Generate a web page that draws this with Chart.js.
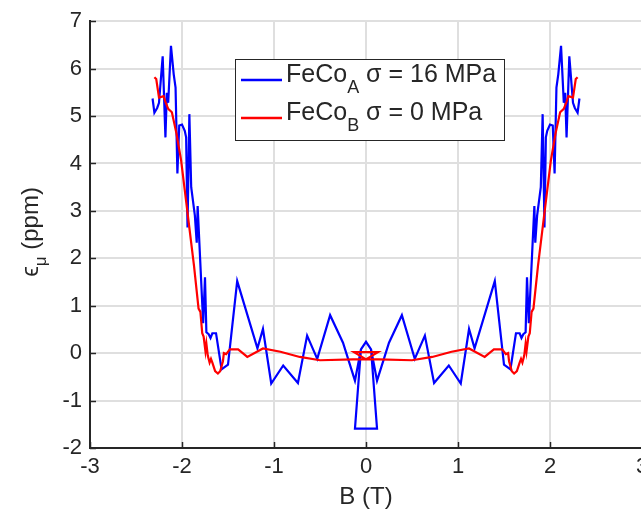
<!DOCTYPE html>
<html>
<head>
<meta charset="utf-8">
<script src="https://cdn.jsdelivr.net/npm/chart.js@4"></script>
<style>
  html, body { margin: 0; padding: 0; background: #fff; overflow: hidden; }
  canvas { display: block; }
</style>
</head>
<body>
<canvas id="strain-chart" width="660" height="515" style="width:660px;height:515px"></canvas>
<script>
// colours
var BLUE = "#0000ff"
var RED = "#ff0000"
var INK = "#262626"
var GRID = "#dfdfdf"
var FONT = "'Liberation Sans', Arial, Helvetica, sans-serif"

// FeCo_A, sigma = 16 MPa  (B in T, strain in ppm) - drawn in measurement order
let BLUE_B = [-2.32, -2.30, -2.27, -2.25, -2.21, -2.18, -2.165, -2.15, -2.12, -2.09, -2.07, -2.05, -2.03, -2.00, -1.97, -1.955, -1.94, -1.92, -1.90, -1.86, -1.84, -1.83, -1.77, -1.75, -1.735, -1.71, -1.69, -1.67, -1.63, -1.57, -1.50, -1.40, -1.18, -1.12, -1.03, -0.90, -0.74, -0.64, -0.53, -0.39, -0.25, -0.12,
  -0.055, 0, 0.055, 0.12, -0.12, -0.055, 0, 0.055,
  0.12, 0.25, 0.39, 0.53, 0.64, 0.74, 0.90, 1.03, 1.12, 1.18, 1.40, 1.50, 1.57, 1.63, 1.67, 1.69, 1.71, 1.735, 1.75, 1.77, 1.83, 1.84, 1.86, 1.90, 1.92, 1.94, 1.955, 1.97, 2.00, 2.03, 2.05, 2.07, 2.09, 2.12, 2.15, 2.165, 2.18, 2.21, 2.25, 2.27, 2.30, 2.32];
let BLUE_EPS = [5.37, 5.07, 5.17, 5.28, 6.26, 4.55, 5.49, 5.28, 6.48, 5.88, 5.60, 3.79, 4.80, 4.82, 4.69, 4.55, 2.65, 5.04, 3.50, 2.90, 2.33, 3.10, 0.63, 1.60, 0.44, 0.40, 0.32, 0.42, 0.42, -0.34, -0.24, 1.52, 0.10, 0.51, -0.64, -0.26, -0.63, 0.37, -0.12, 0.80, 0.22, -0.58,
  0.08, 0.24, 0.08, -1.59, -1.59, 0.08, 0.24, 0.08,
  -0.58, 0.22, 0.80, -0.12, 0.37, -0.63, -0.26, -0.64, 0.51, 0.10, 1.52, -0.24, -0.34, 0.42, 0.42, 0.32, 0.40, 0.44, 1.60, 0.63, 3.10, 2.33, 2.90, 3.50, 5.04, 2.65, 4.55, 4.69, 4.82, 4.80, 3.79, 5.60, 5.88, 6.48, 5.28, 5.49, 4.55, 6.26, 5.28, 5.17, 5.07, 5.37];

// FeCo_B, sigma = 0 MPa
let RED_B = [-2.30, -2.28, -2.25, -2.20, -2.18, -2.15, -2.11, -2.06, -2.01, -1.97, -1.87, -1.82, -1.80, -1.78, -1.765, -1.745, -1.735, -1.72, -1.70, -1.685, -1.67, -1.64, -1.61, -1.585, -1.555, -1.545, -1.52, -1.48, -1.39, -1.32, -1.29, -1.12, -0.93, -0.72, -0.50, -0.14,
  0, -0.13, 0.13, 0,
  0.14, 0.50, 0.72, 0.93, 1.12, 1.29, 1.32, 1.39, 1.48, 1.52, 1.545, 1.555, 1.585, 1.61, 1.64, 1.67, 1.685, 1.70, 1.72, 1.735, 1.745, 1.765, 1.78, 1.80, 1.82, 1.87, 1.97, 2.01, 2.06, 2.11, 2.15, 2.18, 2.20, 2.25, 2.28, 2.30];
let RED_EPS = [5.82, 5.78, 5.39, 5.42, 5.30, 5.15, 5.08, 4.63, 4.07, 3.44, 1.85, 0.94, 0.87, 0.42, 0.35, 0.04, 0.20, -0.05, -0.20, -0.12, -0.20, -0.38, -0.43, -0.38, -0.17, 0.00, -0.02, 0.08, 0.08, -0.03, -0.08, 0.10, 0.03, -0.08, -0.15, -0.13,
  -0.13, 0.02, 0.02, -0.13,
  -0.13, -0.15, -0.08, 0.03, 0.10, -0.08, -0.03, 0.08, 0.08, -0.02, 0.00, -0.17, -0.38, -0.43, -0.38, -0.20, -0.12, -0.20, -0.05, 0.20, 0.04, 0.35, 0.42, 0.87, 0.94, 1.85, 3.44, 4.07, 4.63, 5.08, 5.15, 5.30, 5.42, 5.39, 5.78, 5.82];

let LEGEND_NAMES = ["FeCo", "FeCo"];
let LEGEND_SUBS = ["A", "B"];
let LEGEND_TAILS = [" σ = 16 MPa", " σ = 0 MPa"];

let X_RANGE = [-3, 3];
let Y_RANGE = [-2, 7];

function toPoints(xs, ys) {
  var pts = [];
  for (var i = 0; i < xs.length; i++) pts.push({ x: xs[i], y: ys[i] });
  return pts;
}

// text with a subscript part, returns width
function drawSub(ctx, x, y, main, sub, tail, size, subSize, subDrop) {
  ctx.font = size + "px " + FONT;
  ctx.fillText(main, x, y);
  var w = ctx.measureText(main).width;
  ctx.font = subSize + "px " + FONT;
  ctx.fillText(sub, x + w, y + subDrop);
  w += ctx.measureText(sub).width;
  ctx.font = size + "px " + FONT;
  ctx.fillText(tail, x + w, y);
  w += ctx.measureText(tail).width;
  return w;
}

function subWidth(ctx, main, sub, tail, size, subSize) {
  ctx.font = size + "px " + FONT;
  var w = ctx.measureText(main).width + ctx.measureText(tail).width;
  ctx.font = subSize + "px " + FONT;
  return w + ctx.measureText(sub).width;
}

var extras = {
  id: "extras",
  afterDraw: function (chart) {
    var ctx = chart.ctx;
    var area = chart.chartArea;
    var xs = chart.scales.x, ys = chart.scales.y;
    ctx.save();

    // inward tick marks
    ctx.strokeStyle = INK;
    ctx.lineWidth = 1.5;
    xs.ticks.forEach(function (t) {
      var px = Math.round(xs.getPixelForValue(t.value)) + 0.5;
      ctx.beginPath(); ctx.moveTo(px, area.bottom); ctx.lineTo(px, area.bottom - 6); ctx.stroke();
    });
    ys.ticks.forEach(function (t) {
      var py = Math.round(ys.getPixelForValue(t.value)) + 0.5;
      ctx.beginPath(); ctx.moveTo(area.left, py); ctx.lineTo(area.left + 6, py); ctx.stroke();
    });

    // axis titles
    ctx.fillStyle = INK;
    ctx.textBaseline = "alphabetic";
    ctx.textAlign = "center";
    ctx.font = "24px " + FONT;
    ctx.fillText("B (T)", xs.getPixelForValue(0), 504);

    ctx.textAlign = "left";
    ctx.translate(38, 232);
    ctx.rotate(-Math.PI / 2);
    var tw = subWidth(ctx, "ϵ", "μ", " (ppm)", 24, 17);
    drawSub(ctx, -tw / 2, 0, "ϵ", "μ", " (ppm)", 24, 17, 8);
    ctx.setTransform(1, 0, 0, 1, 0, 0);

    // legend box
    ctx.fillStyle = "#fff";
    ctx.fillRect(235.5, 59.5, 269, 81);
    ctx.strokeStyle = INK;
    ctx.lineWidth = 1;
    ctx.strokeRect(235.5, 59.5, 269, 81);
    var rowY = [80, 118];
    chart.data.datasets.forEach(function (ds, i) {
      ctx.strokeStyle = ds.borderColor;
      ctx.lineWidth = 2.5;
      ctx.beginPath(); ctx.moveTo(241, rowY[i]); ctx.lineTo(282, rowY[i]); ctx.stroke();
      ctx.fillStyle = INK;
      drawSub(ctx, 286, rowY[i] + 2, LEGEND_NAMES[i], LEGEND_SUBS[i], LEGEND_TAILS[i], 25, 18, 11);
    });
    ctx.restore();
  }
};

var ctx = document.getElementById("strain-chart").getContext("2d");
var strainChart = new Chart(ctx, {
  type: "scatter",
  data: {
    datasets: [{
      label: LEGEND_NAMES[0] + LEGEND_SUBS[0] + LEGEND_TAILS[0],
      data: toPoints(BLUE_B, BLUE_EPS),
      borderColor: BLUE,
      backgroundColor: BLUE,
      showLine: true,
      borderWidth: 2.2,
      pointRadius: 0,
      tension: 0,
      order: 1
    }, {
      label: LEGEND_NAMES[1] + LEGEND_SUBS[1] + LEGEND_TAILS[1],
      data: toPoints(RED_B, RED_EPS),
      borderColor: RED,
      backgroundColor: RED,
      showLine: true,
      borderWidth: 2.2,
      pointRadius: 0,
      tension: 0,
      order: 0
    }]
  },
  options: {
    responsive: false,
    animation: false,
    devicePixelRatio: 1,
    layout: { padding: { top: 16, right: 18, left: 0, bottom: 0 } },
    plugins: { legend: { display: false }, tooltip: { enabled: false } },
    scales: {
      x: {
        type: "linear",
        min: X_RANGE[0], max: X_RANGE[1],
        afterFit: function (s) { s.height = 67; },
        ticks: { stepSize: 1, color: INK, padding: 6, font: { family: FONT, size: 22 } },
        grid: { color: GRID, lineWidth: 2, drawTicks: false },
        border: { display: true, color: INK, width: 2 }
      },
      y: {
        type: "linear",
        min: Y_RANGE[0], max: Y_RANGE[1],
        afterFit: function (s) { s.width = 90; },
        ticks: { stepSize: 1, color: INK, padding: 8, font: { family: FONT, size: 22 } },
        grid: { color: GRID, lineWidth: 2, drawTicks: false },
        border: { display: true, color: INK, width: 2 }
      }
    }
  },
  plugins: [extras]
});
</script>
</body>
</html>
